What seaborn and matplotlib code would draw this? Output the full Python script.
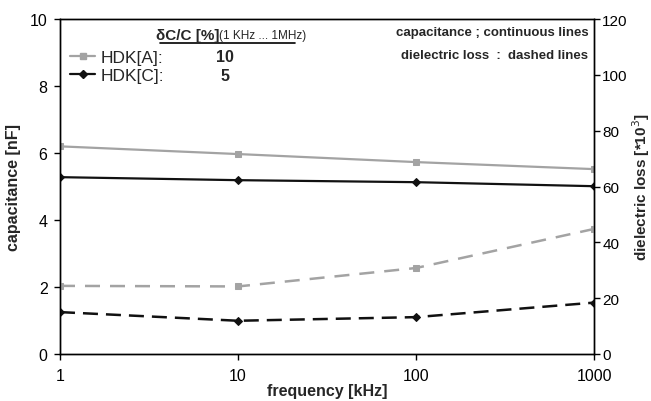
import matplotlib
matplotlib.use("Agg")
import matplotlib.pyplot as plt
import seaborn as sns
import pandas as pd
from matplotlib.lines import Line2D

freq = [1, 10, 100, 1000]
cap_A = [6.2, 5.97, 5.73, 5.52]
cap_C = [5.28, 5.19, 5.13, 5.01]
loss_A = [24.4, 24.2, 30.8, 44.8]
loss_C = [15.0, 11.9, 13.2, 18.4]
legend_names = ["HDK[A]:", "HDK[C]:"]
legend_vals = ["10", "5"]
x_ticks = [1, 10, 100, 1000]
x_ticklabels = ["1", "10", "100", "1000"]
left_ticks = [0, 2, 4, 6, 8, 10]
right_ticks = [0, 20, 40, 60, 80, 100, 120]

sns.set_style("ticks")
plt.rcParams['font.family'] = ['Liberation Sans', 'DejaVu Sans']
plt.rcParams['axes.labelweight'] = 'bold'

gray = "#a3a3a3"
black = "#111111"

fig = plt.figure(figsize=(6.51, 4.02), dpi=100)
ax = fig.add_axes([60 / 651, 0.117, 534 / 651, 0.833])
ax2 = ax.twinx()

dfA = pd.DataFrame({"f": freq, "v": cap_A})
dfC = pd.DataFrame({"f": freq, "v": cap_C})
dlA = pd.DataFrame({"f": freq, "v": loss_A})
dlC = pd.DataFrame({"f": freq, "v": loss_C})

sns.lineplot(data=dfA, x="f", y="v", ax=ax, color=gray, lw=1.6, marker="s",
             markersize=5, markeredgecolor=gray)
sns.lineplot(data=dfC, x="f", y="v", ax=ax, color=black, lw=1.6, marker="D",
             markersize=4.5, markeredgecolor=black)
sns.lineplot(data=dlA, x="f", y="v", ax=ax2, color=gray, lw=1.8, marker="s",
             markersize=5, markeredgecolor=gray)
sns.lineplot(data=dlC, x="f", y="v", ax=ax2, color=black, lw=1.8, marker="D",
             markersize=4.5, markeredgecolor=black)
ax2.lines[0].set_dashes([6, 4])
ax2.lines[1].set_dashes([6, 3.2])

ax.set_xscale("log")
ax.set_xlim(1, 1000)
ax.set_ylim(0, 10)
ax2.set_ylim(0, 120)
ax.set_xticks(x_ticks)
ax.set_xticklabels(x_ticklabels)
ax.xaxis.set_minor_locator(matplotlib.ticker.NullLocator())
ax.set_yticks(left_ticks)
ax2.set_yticks(right_ticks)

for a in (ax, ax2):
    a.tick_params(labelsize=11.5, length=4, width=1, direction="out", colors="black")
    for s in a.spines.values():
        s.set_color("black")
        s.set_linewidth(1)
ax.tick_params(axis="x", pad=6)
ax.tick_params(axis="y", pad=5)
ax2.tick_params(axis="y", pad=2, labelsize=11)

ax.set_xlabel("frequency [kHz]", fontsize=11.5, fontweight="bold", labelpad=0)
ax.set_ylabel("capacitance [nF]", fontsize=11.5, fontweight="bold", labelpad=6)
ax2.set_ylabel(r"dielectric loss [*10$^{3}$]", fontsize=11, fontweight="bold", labelpad=2)

handles = [Line2D([], [], color=gray, lw=1.6, marker="s", markersize=4),
           Line2D([], [], color=black, lw=1.6, marker="D", markersize=4)]
leg = ax.legend(handles, legend_names, loc="center left", bbox_to_anchor=(0.0, 0.859),
                frameon=False, fontsize=12.5, handlelength=1.4, handletextpad=0.36,
                labelspacing=0.18, borderaxespad=0.0, borderpad=0.6)

ax.text(0.309, 0.887, legend_vals[0], transform=ax.transAxes, fontsize=11.5,
        ha="center", va="center", fontweight="bold")
ax.text(0.309, 0.831, legend_vals[1], transform=ax.transAxes, fontsize=11.5,
        ha="center", va="center", fontweight="bold")
ax.text(0.180, 0.953, r"δC/C [%]", transform=ax.transAxes, fontsize=11,
        ha="left", va="center", fontweight="bold")
ax.text(0.297, 0.953, "(1 KHz ... 1MHz)", transform=ax.transAxes, fontsize=8.5,
        ha="left", va="center")
ax.plot([0.187, 0.440], [0.928, 0.928], transform=ax.transAxes, color="black", lw=1.2)

ax.text(0.989, 0.961, "capacitance ; continuous lines", transform=ax.transAxes,
        fontsize=9.5, ha="right", va="center", fontweight="bold")
ax.text(0.989, 0.893, "dielectric loss  :  dashed lines", transform=ax.transAxes,
        fontsize=9.5, ha="right", va="center", fontweight="bold")

fig.savefig("out.png", dpi=100)
